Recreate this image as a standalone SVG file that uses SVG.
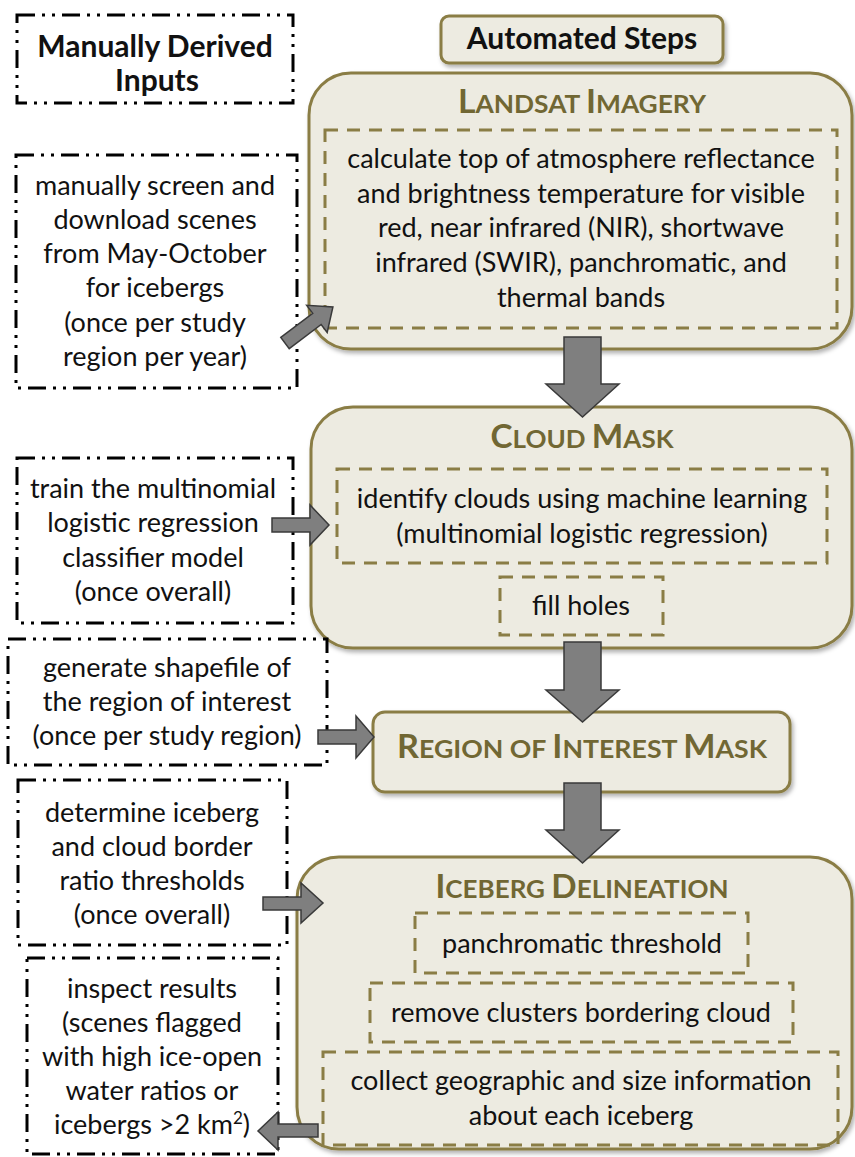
<svg xmlns="http://www.w3.org/2000/svg" width="855" height="1157" viewBox="0 0 855 1157">
<defs>
<filter id="sh" x="-10%" y="-10%" width="120%" height="130%">
<feDropShadow dx="2" dy="3" stdDeviation="2" flood-color="#000" flood-opacity="0.3"/>
</filter>
<style>
.step{fill:#EDEBE1;stroke:#8A7D45;stroke-width:3;filter:url(#sh)}
.inner{fill:none;stroke:#8A7D45;stroke-width:3;stroke-dasharray:13 9}
.manual{fill:#fff;stroke:#000;stroke-width:3;stroke-dasharray:18 7 3 7 3 7}
.arrow{fill:#7F7F7F;stroke:#3A3A3A;stroke-width:1.5;stroke-linejoin:miter}
.t{font-family:Lato,"Open Sans","Liberation Sans",sans-serif;font-size:27px;fill:#111;text-anchor:middle}
.b{font-family:Lato,"Open Sans","Liberation Sans",sans-serif;font-size:30px;font-weight:bold;fill:#111;text-anchor:middle}
.title{font-family:Lato,"Open Sans","Liberation Sans",sans-serif;font-weight:bold;fill:#716733;text-anchor:middle;font-size:25px}
.big{font-size:32px}
</style>
</defs>

<g id="manual-header">
<rect class="manual" x="17" y="15" width="276" height="88"/>
<text class="b" x="155" y="57">Manually Derived</text>
<text class="b" x="157" y="91">Inputs</text>
</g>

<g id="automated-header">
<rect class="step" x="441" y="16" width="282" height="47" rx="8"/>
<text class="b" x="582" y="49">Automated Steps</text>
</g>

<g id="landsat">
<rect class="step" x="309" y="73" width="543" height="276" rx="42"/>
<text class="title" x="582" y="113" textLength="248" lengthAdjust="spacingAndGlyphs"><tspan class="big">L</tspan>ANDSAT <tspan class="big">I</tspan>MAGERY</text>
<rect class="inner" x="325" y="130" width="512" height="198"/>
<text class="t" x="581" y="168">calculate top of atmosphere reflectance</text>
<text class="t" x="581" y="203">and brightness temperature for visible</text>
<text class="t" x="581" y="237">red, near infrared (NIR), shortwave</text>
<text class="t" x="581" y="272">infrared (SWIR), panchromatic, and</text>
<text class="t" x="581" y="307">thermal bands</text>
</g>

<g id="manual-screen">
<rect class="manual" x="16" y="155" width="281" height="233"/>
<text class="t" x="155" y="195">manually screen and</text>
<text class="t" x="155" y="229">download scenes</text>
<text class="t" x="155" y="263">from May-October</text>
<text class="t" x="155" y="297">for icebergs</text>
<text class="t" x="155" y="332">(once per study</text>
<text class="t" x="155" y="366">region per year)</text>
</g>

<g id="cloud-mask">
<rect class="step" x="311" y="407" width="541" height="241" rx="42"/>
<text class="title" x="582" y="448" textLength="183" lengthAdjust="spacingAndGlyphs"><tspan class="big">C</tspan>LOUD <tspan class="big">M</tspan>ASK</text>
<rect class="inner" x="337" y="469" width="490" height="94"/>
<text class="t" x="582" y="508">identify clouds using machine learning</text>
<text class="t" x="582" y="543">(multinomial logistic regression)</text>
<rect class="inner" x="500" y="577" width="163" height="58"/>
<text class="t" x="581" y="615">fill holes</text>
</g>

<g id="manual-train">
<rect class="manual" x="17" y="458" width="276" height="165"/>
<text class="t" x="153" y="498">train the multinomial</text>
<text class="t" x="153" y="532">logistic regression</text>
<text class="t" x="153" y="567">classifier model</text>
<text class="t" x="153" y="601">(once overall)</text>
</g>

<g id="manual-shapefile">
<rect class="manual" x="8" y="639" width="319" height="126"/>
<text class="t" x="167" y="677">generate shapefile of</text>
<text class="t" x="167" y="711">the region of interest</text>
<text class="t" x="167" y="745">(once per study region)</text>
</g>

<g id="roi-mask">
<rect class="step" x="373" y="712" width="417" height="80" rx="12"/>
<text class="title" x="582" y="758" textLength="370" lengthAdjust="spacingAndGlyphs"><tspan class="big">R</tspan>EGION OF <tspan class="big">I</tspan>NTEREST <tspan class="big">M</tspan>ASK</text>
</g>

<g id="manual-thresholds">
<rect class="manual" x="18" y="780" width="269" height="165"/>
<text class="t" x="152" y="822">determine iceberg</text>
<text class="t" x="152" y="856">and cloud border</text>
<text class="t" x="152" y="890">ratio thresholds</text>
<text class="t" x="152" y="924">(once overall)</text>
</g>

<g id="iceberg-delineation">
<rect class="step" x="297" y="857" width="555" height="292" rx="42"/>
<text class="title" x="582" y="898" textLength="293" lengthAdjust="spacingAndGlyphs"><tspan class="big">I</tspan>CEBERG <tspan class="big">D</tspan>ELINEATION</text>
<rect class="inner" x="415" y="913" width="333" height="60"/>
<text class="t" x="582" y="953">panchromatic threshold</text>
<rect class="inner" x="370" y="983" width="423" height="59"/>
<text class="t" x="581" y="1022">remove clusters bordering cloud</text>
<rect class="inner" x="323" y="1052" width="515" height="93"/>
<text class="t" x="581" y="1090">collect geographic and size information</text>
<text class="t" x="581" y="1125">about each iceberg</text>
</g>

<g id="manual-inspect">
<rect class="manual" x="27" y="958" width="251" height="196"/>
<text class="t" x="152" y="998">inspect results</text>
<text class="t" x="152" y="1032">(scenes flagged</text>
<text class="t" x="152" y="1066">with high ice-open</text>
<text class="t" x="152" y="1100">water ratios or</text>
<text class="t" x="152" y="1134">icebergs &gt;2 km<tspan dy="-10" font-size="17">2</tspan><tspan dy="10">)</tspan></text>
</g>

<g id="connectors">
<polygon class="arrow" points="564,337 601,337 601,384 619,384 582.5,417 546,384 564,384"/>
<polygon class="arrow" points="564,642 601,642 601,690 619,690 582.5,722 546,690 564,690"/>
<polygon class="arrow" points="564,783 601,783 601,830 619,830 582.5,863 546,830 564,830"/>
<polygon class="arrow" transform="translate(285,343) rotate(-37)" points="0,-7 40,-7 40,-17 60,0 40,17 40,7 0,7"/>
<polygon class="arrow" points="272,518 310,518 310,505 329,525 310,545 310,532 272,532"/>
<polygon class="arrow" points="318,730 356,730 356,716 374,737 356,758 356,744 318,744"/>
<polygon class="arrow" points="263,897 301,897 301,883 323,903 301,923 301,910 263,910"/>
<polygon class="arrow" points="318,1124 278,1124 278,1112 258,1131 278,1150 278,1137 318,1137"/>
</g>
</svg>
